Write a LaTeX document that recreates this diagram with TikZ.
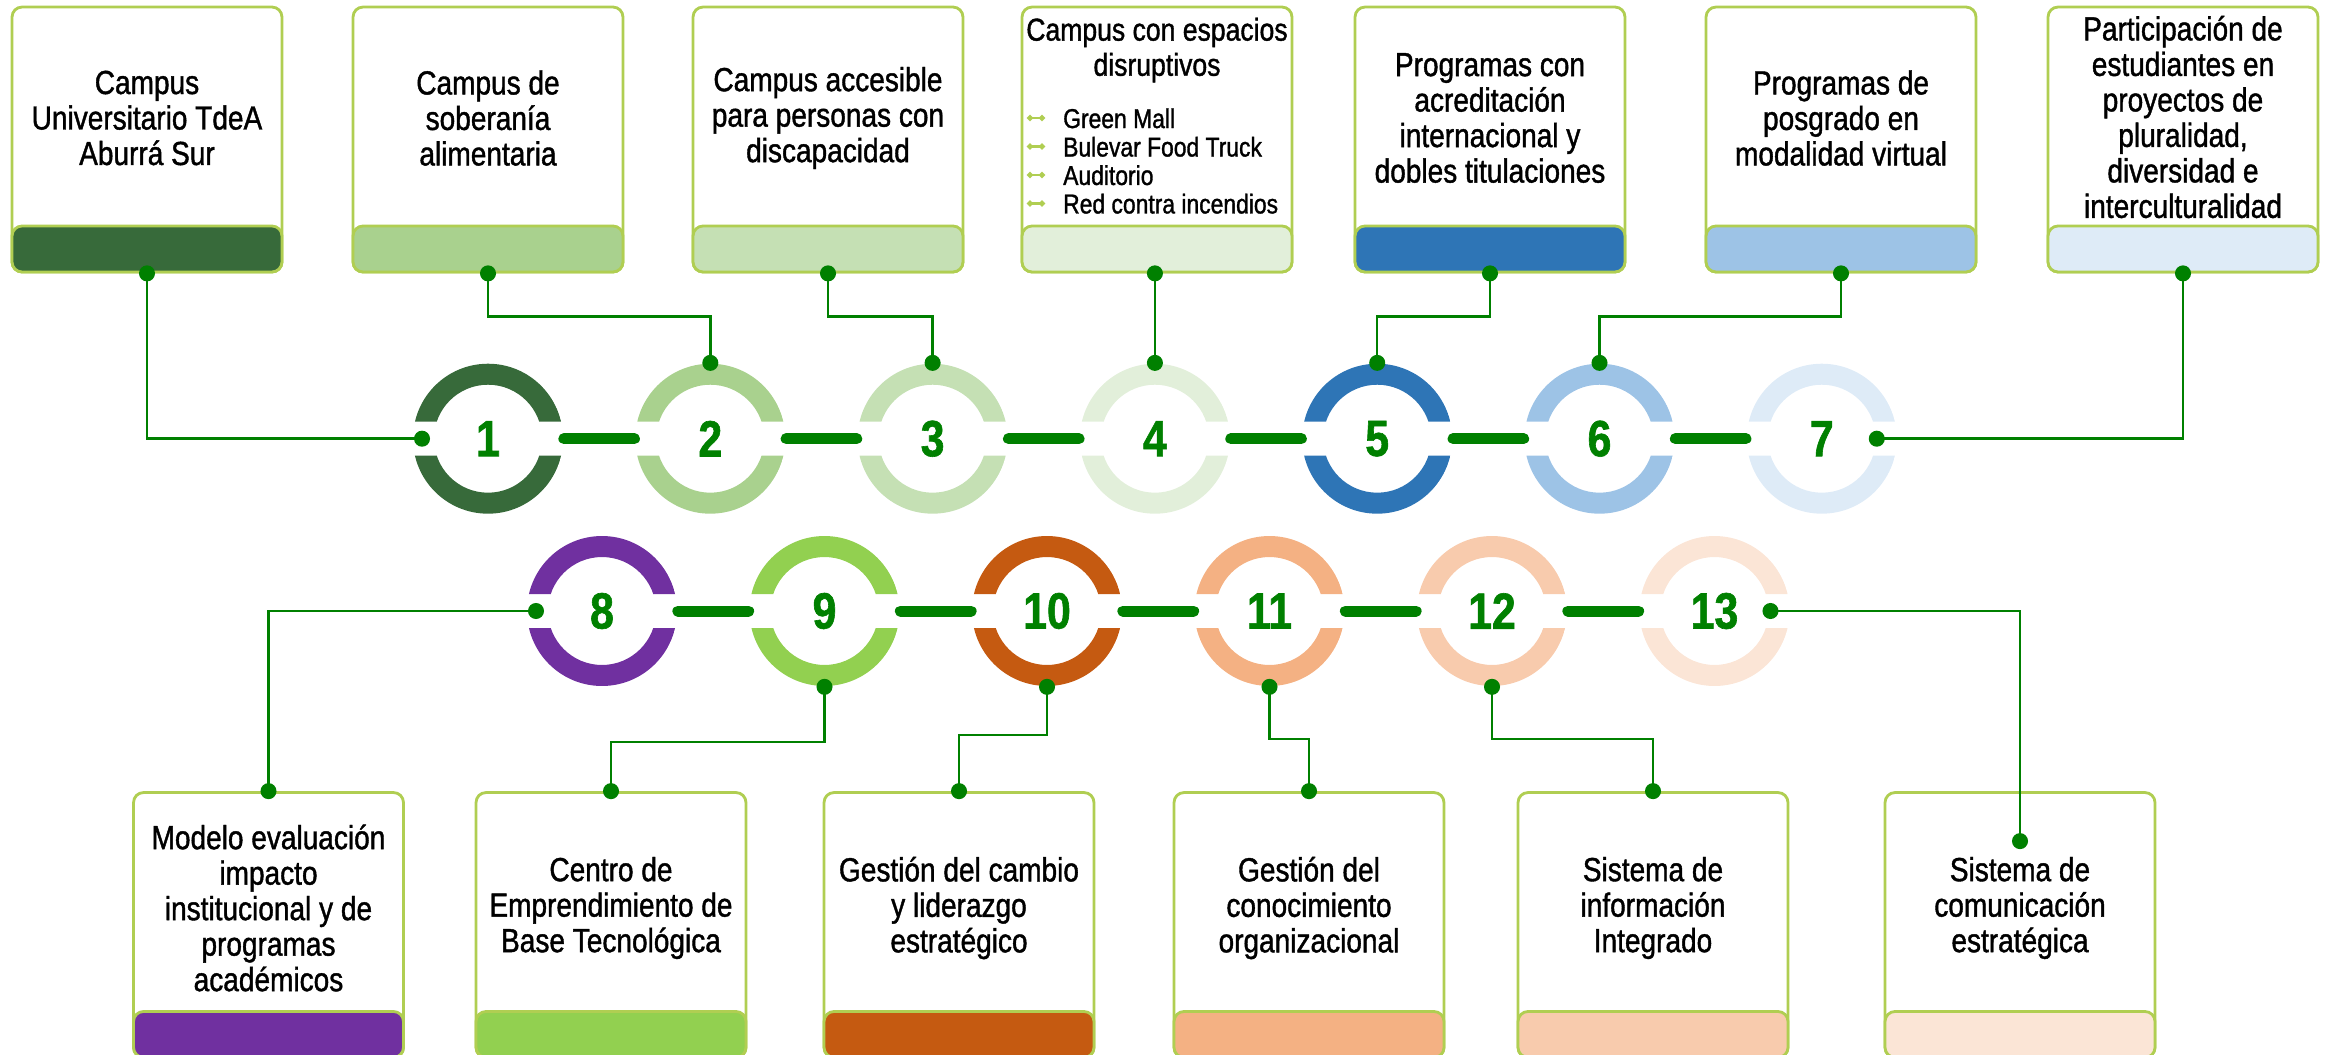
\documentclass[tikz,border=0pt]{standalone}
\usepackage{fontspec}
\setmainfont{Liberation Sans}[FakeStretch=0.84, FakeBold=1.2]
\usetikzlibrary{arrows.meta, positioning}
\definecolor{cardline}{RGB}{176,206,82}
\definecolor{lnkgreen}{HTML}{008000}
\definecolor{cA}{HTML}{376A3A}
\definecolor{cB}{HTML}{A9D18E}
\definecolor{cC}{HTML}{C5E0B4}
\definecolor{cD}{HTML}{E2EFDA}
\definecolor{cE}{HTML}{2E75B6}
\definecolor{cF}{HTML}{9DC3E6}
\definecolor{cG}{HTML}{DEEBF7}
\definecolor{cH}{HTML}{7030A0}
\definecolor{cI}{HTML}{92D050}
\definecolor{cJ}{HTML}{C55A11}
\definecolor{cK}{HTML}{F4B183}
\definecolor{cL}{HTML}{F8CBAD}
\definecolor{cM}{HTML}{FBE5D6}
\tikzset{
    card/.style={rectangle, rounded corners=0.2cm, draw=cardline, line width=1.6pt, fill=white, minimum width=5.4cm, minimum height=5.3cm},
    bar/.style={rectangle, rounded corners=0.2cm, draw=cardline, line width=1.6pt, minimum width=5.4cm, minimum height=0.92cm},
    cardtext/.style={align=center, font=\fontsize{19}{20.2}\selectfont},
    ring/.style={circle, minimum size=3.02cm, inner sep=0pt, text=lnkgreen, font=\fontsize{29}{29}\selectfont\bfseries,
        path picture={
            \clip ([xshift=-2cm,yshift=0.34cm]path picture bounding box.center) rectangle ([xshift=2cm,yshift=2cm]path picture bounding box.center)
                  ([xshift=-2cm,yshift=-0.34cm]path picture bounding box.center) rectangle ([xshift=2cm,yshift=-2cm]path picture bounding box.center);
            \fill[#1, even odd rule] (path picture bounding box.center) circle[radius=1.5cm] circle[radius=1.08cm];
        }},
    bond/.style={draw=lnkgreen, line width=0.22cm, line cap=round},
    link/.style={draw=lnkgreen, line width=1.4pt, {Circle[length=0.32cm]}-{Circle[length=0.32cm]}, shorten <=-0.16cm, shorten >=-0.16cm},
    itemlink/.style={draw=cardline, line width=1.2pt, {Circle[length=3.4pt]}-{Circle[length=3.4pt]}}
}
\begin{document}
\begin{tikzpicture}[x=0.02cm, y=-0.02cm]
    \useasboundingbox (0,0) rectangle (2330,1055);
    % Cards
    \foreach \n/\x/\clr in {1/147/cA, 2/488/cB, 3/828/cC, 4/1157/cD, 5/1490/cE, 6/1841/cF, 7/2183/cG} {
        \node[card] (card\n) at (\x,139.5) {};
        \node[bar, fill=\clr, anchor=south] (bar\n) at (card\n.south) {};
    }
    \foreach \n/\x/\clr in {8/268.5/cH, 9/611/cI, 10/959/cJ, 11/1309/cK, 12/1653/cL, 13/2020/cM} {
        \node[card] (card\n) at (\x,925) {};
        \node[bar, fill=\clr, anchor=south] (bar\n) at (card\n.south) {};
    }
    % Texts
    \node[cardtext] (t1) at (147,118) {Campus\\Universitario TdeA\\Aburrá Sur};
    \node[cardtext] (t2) at (488,118) {Campus de\\soberanía\\alimentaria};
    \node[cardtext] (t3) at (828,118) {Campus accesible\\para personas con\\discapacidad};
    \node[cardtext, font=\fontsize{18}{20}\selectfont] (t4) at (1157,50) {Campus con espacios\\disruptivos};
    \node[align=left, anchor=west, font=\fontsize{15.5}{16.2}\selectfont] (l4) at (1057,161) {Green Mall\\Bulevar Food Truck\\Auditorio\\Red contra incendios};
    \foreach \yy in {118,146.5,175,203.5}
        \draw[itemlink] (1027,\yy) -- (1045,\yy);
    \node[cardtext] (t5) at (1490,118) {Programas con\\acreditación\\internacional y\\dobles titulaciones};
    \node[cardtext] (t6) at (1841,118) {Programas de\\posgrado en\\modalidad virtual};
    \node[cardtext] (t7) at (2183,117) {Participación de\\estudiantes en\\proyectos de\\pluralidad,\\diversidad e\\interculturalidad};
    \node[cardtext] (t8) at (268.5,908) {Modelo evaluación\\impacto\\institucional y de\\programas\\académicos};
    \node[cardtext] (t9) at (611,908) {Centro de\\Emprendimiento de\\Base Tecnológica};
    \node[cardtext] (t10) at (959,908) {Gestión del cambio\\y liderazgo\\estratégico};
    \node[cardtext] (t11) at (1309,908) {Gestión del\\conocimiento\\organizacional};
    \node[cardtext] (t12) at (1653,908) {Sistema de\\información\\Integrado};
    \node[cardtext] (t13) at (2020,908) {Sistema de\\comunicación\\estratégica};
    % Rings
    \foreach \n/\x/\clr in {1/488/cA, 2/710.3/cB, 3/932.6/cC, 4/1154.9/cD, 5/1377.2/cE, 6/1599.5/cF, 7/1821.8/cG}
        \node[ring=\clr] (c\n) at (\x,438.7) {\n};
    \foreach \n/\x/\clr in {8/602/cH, 9/824.5/cI, 10/1047/cJ, 11/1269.5/cK, 12/1492/cL, 13/1714.5/cM}
        \node[ring=\clr] (c\n) at (\x,611) {\n};
    \foreach \a/\b in {1/2, 2/3, 3/4, 4/5, 5/6, 6/7, 8/9, 9/10, 10/11, 11/12, 12/13}
        \draw[bond] (c\a) -- (c\b);
    % Links
    \draw[link] (card1.south) |- ([xshift=-1.32cm]c1.center);
    \draw[link] (card2.south) -- ++(0,43) -| (c2.north);
    \draw[link] (card3.south) -- ++(0,43) -| (c3.north);
    \draw[link] (c4.north |- card4.south) -- (c4.north);
    \draw[link] (card5.south) -- ++(0,43) -| (c5.north);
    \draw[link] (card6.south) -- ++(0,43) -| (c6.north);
    \draw[link] (card7.south) |- ([xshift=1.1cm]c7.center);
    \draw[link] ([xshift=-1.32cm]c8.center) -| (card8.north);
    \draw[link] (c9.south) -- ++(0,55) -| (card9.north);
    \draw[link] (c10.south) -- ++(0,48) -| (card10.north);
    \draw[link] (c11.south) -- ++(0,52) -| (card11.north);
    \draw[link] (c12.south) -- ++(0,52) -| (card12.north);
    \draw[link] ([xshift=1.12cm]c13.center) -| ([yshift=-1cm]card13.north);
\end{tikzpicture}
\end{document}
